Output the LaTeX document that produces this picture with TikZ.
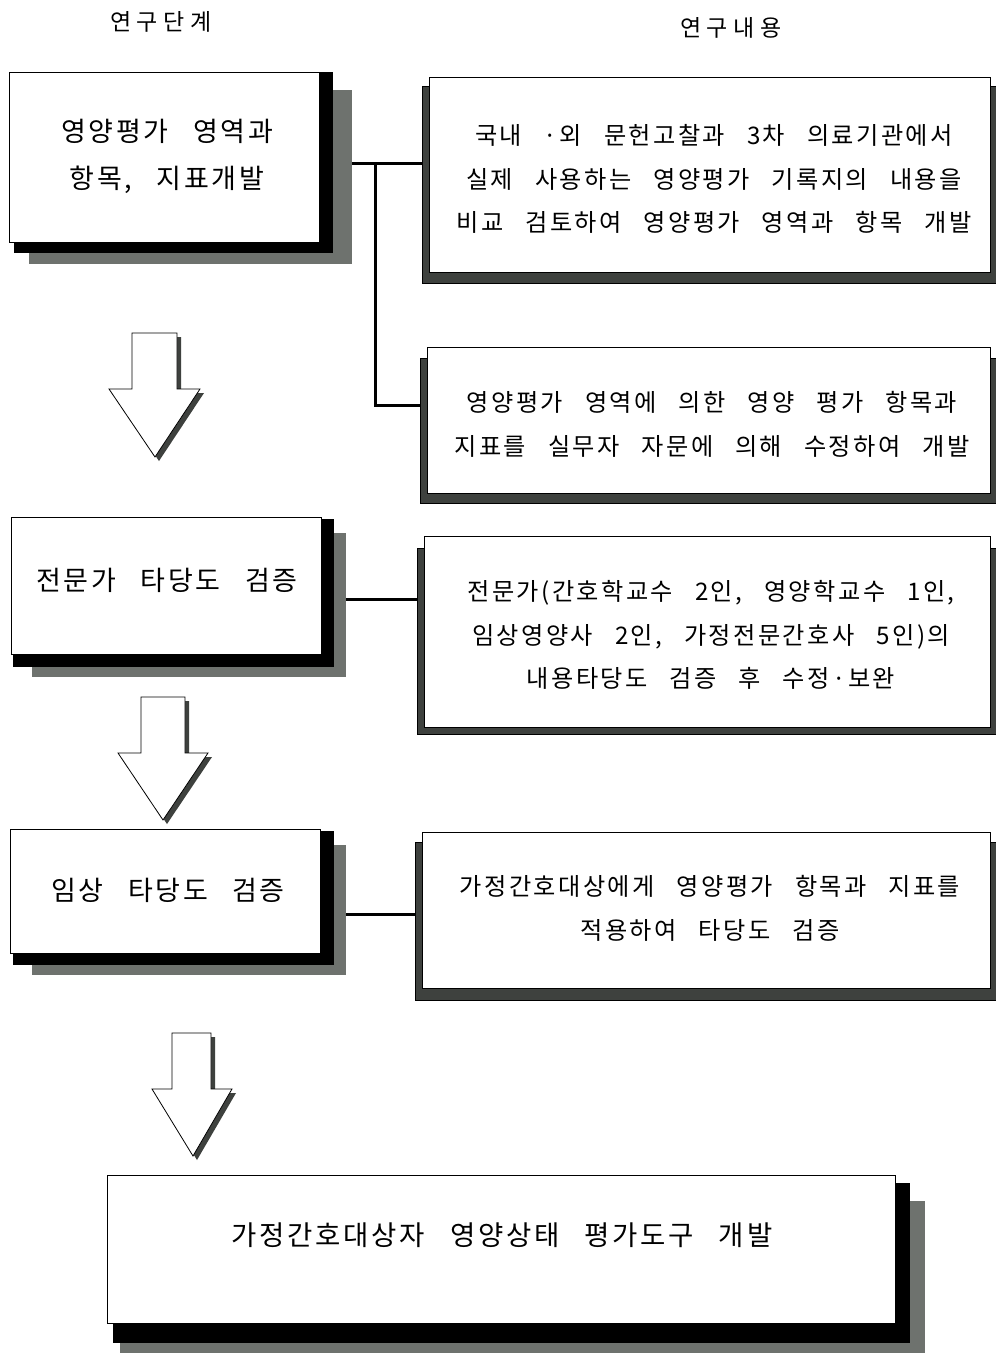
\documentclass[tikz,border=0pt]{standalone}
\usepackage{fontspec}
\setmainfont{Noto Sans CJK KR}[WordSpace=2.8, LetterSpace=10]
\usetikzlibrary{calc}
\pgfdeclarelayer{background}
\pgfsetlayers{background,main}
\definecolor{shgray}{RGB}{110,114,110}
\definecolor{shdark}{RGB}{62,65,62}
\tikzset{
  boxbase/.style={draw=black, line width=0.8pt, fill=white, inner sep=0pt},
  steptxt/.style={inner sep=0pt, align=center, font=\fontsize{27}{47}\selectfont},
  notetxt/.style={inner sep=0pt, align=center, font=\fontsize{24.2}{43.5}\selectfont},
  hdr/.style={inner sep=0pt, font=\fontsize{23}{26}\selectfont\addfontfeatures{LetterSpace=25}},
  link/.style={line width=3pt},
  blackshadow/.style={fill=black},
  grayshadow/.style={fill=shgray},
  darkshadow/.style={fill=shdark, draw=black, line width=0.6pt},
  blockarrow/.style={draw=black, line width=0.8pt, fill=white, line join=miter},
}
\newcommand\mkarrow[8]{%
  \fill[shdark, shift={(4,4)}] (#1,#3) -- (#2,#3) -- (#2,#4) -- (#6,#4) -- (#7,#8) -- (#5,#4) -- (#1,#4) -- cycle;
  \draw[blockarrow] (#1,#3) -- (#2,#3) -- (#2,#4) -- (#6,#4) -- (#7,#8) -- (#5,#4) -- (#1,#4) -- cycle;
}
\begin{document}
\begin{tikzpicture}[x=1pt,y=-1pt]
\useasboundingbox (0,0) rectangle (996,1353);

% headers
\node[hdr] (h1) at (161,22) {연구단계};
\node[hdr] (h2) at (731,28) {연구내용};

% left step boxes
\node[boxbase, minimum width=310pt, minimum height=170pt] (L1) at (164,157) {};
\node[boxbase, minimum width=310pt, minimum height=137pt] (L2) at (166,585.5) {};
\node[boxbase, minimum width=310pt, minimum height=124pt] (L3) at (165,891) {};
\node[boxbase, minimum width=788pt, minimum height=148pt] (L4) at (501,1249) {};

% right content boxes
\node[boxbase, minimum width=561pt, minimum height=195pt] (R1) at (709.5,174.5) {};
\node[boxbase, minimum width=563pt, minimum height=146pt] (R2) at (708.5,420) {};
\node[boxbase, minimum width=566pt, minimum height=191pt] (R3) at (707,631.5) {};
\node[boxbase, minimum width=568pt, minimum height=156pt] (R4) at (706,910) {};

% junction coordinates
\coordinate (j1) at (375,163);
\coordinate (j2) at (375,405);
\coordinate (j3) at (375,599);
\coordinate (j4) at (375,914);

\begin{pgfonlayer}{background}
  \fill[white] (0,0) rectangle (996,1353);
  % connectors
  \draw[link] (L1.east |- j1) -- (R1.west |- j1);
  \draw[link] (j1) -- (j2) -- (R2.west |- j2);
  \draw[link] (L2.east |- j3) -- (R3.west |- j3);
  \draw[link] (L3.east |- j4) -- (R4.west |- j4);
  % step box shadows
  \fill[grayshadow] ([shift={(20,18)}]L1.north west) rectangle ([shift={(33,22)}]L1.south east);
  \fill[blackshadow] ([shift={(5,0)}]L1.north west) rectangle ([shift={(14,11)}]L1.south east);
  \fill[grayshadow] ([shift={(21,16)}]L2.north west) rectangle ([shift={(25,23)}]L2.south east);
  \fill[blackshadow] ([shift={(2,2)}]L2.north west) rectangle ([shift={(13,13)}]L2.south east);
  \fill[grayshadow] ([shift={(22,16)}]L3.north west) rectangle ([shift={(26,22)}]L3.south east);
  \fill[blackshadow] ([shift={(3,2)}]L3.north west) rectangle ([shift={(14,12)}]L3.south east);
  \fill[grayshadow] ([shift={(13,26)}]L4.north west) rectangle ([shift={(30,30)}]L4.south east);
  \fill[blackshadow] ([shift={(6,8)}]L4.north west) rectangle ([shift={(15,20)}]L4.south east);
  % content box shadows
  \draw[darkshadow] ([shift={(-6,10)}]R1.north west) rectangle ([shift={(6,11)}]R1.south east);
  \draw[darkshadow] ([shift={(-6,12)}]R2.north west) rectangle ([shift={(6,10)}]R2.south east);
  \draw[darkshadow] ([shift={(-6,13)}]R3.north west) rectangle ([shift={(6,7)}]R3.south east);
  \draw[darkshadow] ([shift={(-6,11)}]R4.north west) rectangle ([shift={(6,12)}]R4.south east);
\end{pgfonlayer}

% step texts
\node[steptxt] (t1) at (167,156.5) {영양평가 영역과\\항목, 지표개발};
\node[steptxt] (t2) at (167,580) {전문가 타당도 검증};
\node[steptxt] (t3) at (168,890) {임상 타당도 검증};
\node[steptxt, font=\fontsize{27.5}{47}\selectfont] (t4) at (502,1235) {가정간호대상자 영양상태 평가도구 개발};

% content texts
\node[notetxt] (c1) at (714,179) {국내 ·외 문헌고찰과 3차 의료기관에서\\실제 사용하는 영양평가 기록지의 내용을\\비교 검토하여 영양평가 영역과 항목 개발};
\node[notetxt] (c2) at (712,424.5) {영양평가 영역에 의한 영양 평가 항목과\\지표를 실무자 자문에 의해 수정하여 개발};
\node[notetxt] (c3) at (711,635) {전문가(간호학교수 2인, 영양학교수 1인,\\임상영양사 2인, 가정전문간호사 5인)의\\내용타당도 검증 후 수정·보완};
\node[notetxt] (c4) at (710,908.5) {가정간호대상에게 영양평가 항목과 지표를\\적용하여 타당도 검증};

% block arrows
\mkarrow{132}{177}{333}{389}{109}{200}{155}{457}
\mkarrow{141}{185}{697}{753}{118}{208}{163}{820}
\mkarrow{172}{211}{1033}{1089}{152}{232}{193}{1156}
\end{tikzpicture}
\end{document}
